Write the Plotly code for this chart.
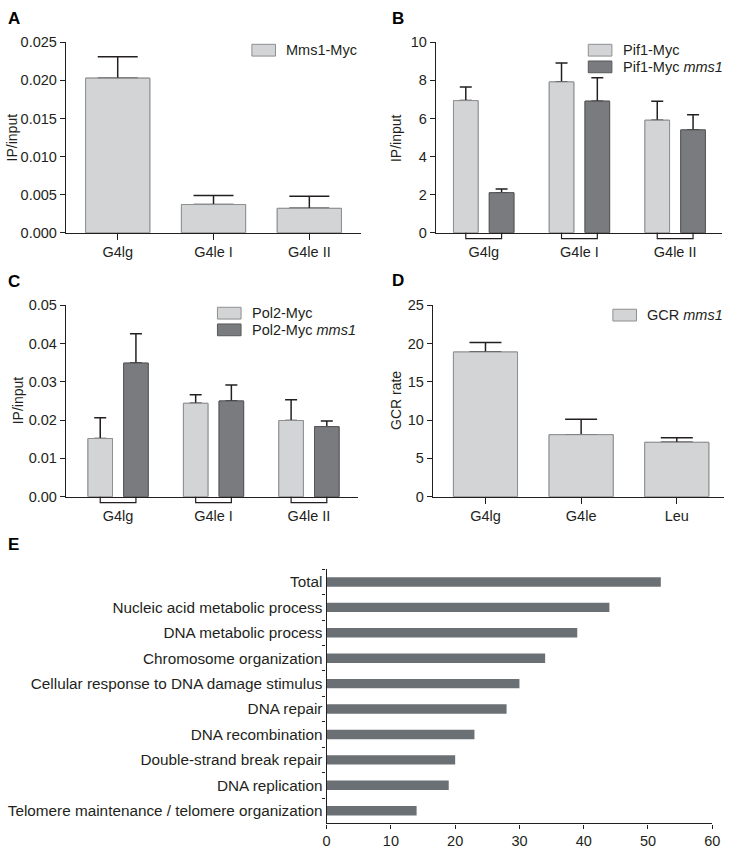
import plotly.graph_objects as go

W, H = 734, 854

# ---------------- data ----------------
a_cats = ["G4lg", "G4le I", "G4le II"]
a_vals = [0.0203, 0.0037, 0.0032]
a_err = [0.0028, 0.0012, 0.0016]

b_cats = ["G4lg", "G4le I", "G4le II"]
b_wt = [6.94, 7.92, 5.91]
b_wt_err = [0.71, 1.00, 1.00]
b_mms1 = [2.10, 6.91, 5.40]
b_mms1_err = [0.20, 1.23, 0.80]

c_cats = ["G4lg", "G4le I", "G4le II"]
c_wt = [0.0152, 0.0244, 0.0199]
c_wt_err = [0.0054, 0.0022, 0.0054]
c_mms1 = [0.0349, 0.0250, 0.0183]
c_mms1_err = [0.0077, 0.0042, 0.0015]

d_cats = ["G4lg", "G4le", "Leu"]
d_vals = [18.9, 8.1, 7.1]
d_err = [1.25, 2.0, 0.6]

e_cats = ["Total", "Nucleic acid metabolic process", "DNA metabolic process",
          "Chromosome organization", "Cellular response to DNA damage stimulus",
          "DNA repair", "DNA recombination", "Double-strand break repair",
          "DNA replication", "Telomere maintenance / telomere organization"]
e_vals = [52, 44, 39, 34, 30, 28, 23, 20, 19, 14]

# ---------------- style ----------------
INK = "#231f20"
LIGHT = "#d3d4d6"
LIGHT_EDGE = "#8e8f91"
DARK = "#7a7b7f"
DARK_EDGE = "#58595b"
EBAR = "#6b7074"
FONT = "Liberation Sans, Arial, sans-serif"
FS = 14.5


def PX(x):
    return x / W


def PY(y):
    return 1 - y / H


fig = go.Figure()

idx = [0, 1, 2]
wide = 0.67
narrow = 0.257
off = 0.187


def errbar(err, hw):
    return dict(type="data", symmetric=False, array=err, arrayminus=[0] * len(err),
                color=INK, thickness=1.5, width=hw)


def bars(x, y, width, fill, edge, err, hw, xa, ya):
    # bar carrying the (upper) error bar, then the same bar redrawn on top to hide the lower cap
    fig.add_trace(go.Bar(x=x, y=y, width=width, marker=dict(color=fill, line=dict(color=edge, width=1)),
                         error_y=errbar(err, hw), xaxis=xa, yaxis=ya, showlegend=False, hoverinfo="skip"))
    fig.add_trace(go.Bar(x=x, y=y, width=width, marker=dict(color=fill, line=dict(color=edge, width=1)),
                         xaxis=xa, yaxis=ya, showlegend=False))


bars(idx, a_vals, wide, LIGHT, LIGHT_EDGE, a_err, 20, "x", "y")
bars([i - off for i in idx], b_wt, narrow, LIGHT, LIGHT_EDGE, b_wt_err, 6, "x2", "y2")
bars([i + off for i in idx], b_mms1, narrow, DARK, DARK_EDGE, b_mms1_err, 6, "x2", "y2")
bars([i - off for i in idx], c_wt, narrow, LIGHT, LIGHT_EDGE, c_wt_err, 6, "x3", "y3")
bars([i + off for i in idx], c_mms1, narrow, DARK, DARK_EDGE, c_mms1_err, 6, "x3", "y3")
bars(idx, d_vals, wide, LIGHT, LIGHT_EDGE, d_err, 16, "x4", "y4")

fig.add_trace(go.Bar(y=e_cats, x=e_vals, orientation="h", width=0.37, marker=dict(color=EBAR, line=dict(width=0)),
                     xaxis="x5", yaxis="y5", showlegend=False))

tickfont = dict(family=FONT, size=FS, color=INK)
common_x = dict(showline=True, linecolor=INK, linewidth=1.3, ticks="outside", ticklen=6, tickwidth=1.3,
                tickcolor=INK, tickfont=tickfont, showgrid=False, zeroline=False, fixedrange=True)
common_y = dict(showline=True, linecolor=INK, linewidth=1.3, ticks="outside", ticklen=5, tickwidth=1.3,
                tickcolor=INK, tickfont=tickfont, showgrid=False, zeroline=False, fixedrange=True)

fig.update_layout(
    width=W, height=H, margin=dict(l=0, r=0, t=0, b=0),
    paper_bgcolor="white", plot_bgcolor="white",
    font=dict(family=FONT, color=INK, size=FS),
    barmode="overlay",
    xaxis=dict(common_x, domain=[PX(63), PX(363)], range=[-0.54, 2.54], tickvals=idx, ticktext=a_cats, anchor="y"),
    yaxis=dict(common_y, domain=[PY(229), PY(35)], range=[0, 0.025], dtick=0.005, tickformat=".3f", anchor="x"),
    xaxis2=dict(common_x, domain=[PX(439), PX(730)], range=[-0.5, 2.49], tickvals=idx, ticktext=b_cats,
                tickcolor="rgba(0,0,0,0)", anchor="y2"),
    yaxis2=dict(common_y, domain=[PY(229), PY(35)], range=[0, 10], dtick=2, anchor="x2"),
    xaxis3=dict(common_x, domain=[PX(63), PX(360)], range=[-0.546, 2.515], tickvals=idx, ticktext=c_cats,
                tickcolor="rgba(0,0,0,0)", anchor="y3"),
    yaxis3=dict(common_y, domain=[PY(498), PY(303)], range=[0, 0.05], dtick=0.01, tickformat=".2f", anchor="x3"),
    xaxis4=dict(common_x, domain=[PX(436), PX(732)], range=[-0.55, 2.494], tickvals=idx, ticktext=d_cats, anchor="y4"),
    yaxis4=dict(common_y, domain=[PY(498), PY(303)], range=[0, 25], dtick=5, anchor="x4"),
    xaxis5=dict(common_x, domain=[PX(328), PX(720)], range=[0, 60], dtick=10, ticklen=4, anchor="y5"),
    yaxis5=dict(common_y, domain=[PY(831), PY(572)], type="category", autorange="reversed",
                tickson="boundaries", ticklen=3, tickfont=dict(family=FONT, size=15.3, color=INK), anchor="x5"),
)

shapes = []
# brackets under grouped panels
for xr, dom_bottom in (("x2", 229), ("x3", 498)):
    for i in idx:
        shapes.append(dict(type="path", xref=xr, yref="paper",
                           path=f"M {i - off},{PY(dom_bottom)} L {i - off},{PY(dom_bottom + 6)} "
                                f"L {i + off},{PY(dom_bottom + 6)} L {i + off},{PY(dom_bottom)}",
                           line=dict(color=INK, width=1.2)))

annotations = []


def legend_item(x, y0, y1, fill, edge, text):
    shapes.append(dict(type="rect", xref="paper", yref="paper", x0=PX(x), x1=PX(x + 24),
                       y0=PY(y1), y1=PY(y0), fillcolor=fill, line=dict(color=edge, width=1)))
    annotations.append(dict(xref="paper", yref="paper", x=PX(x + 33), y=PY((y0 + y1) / 2), text=text,
                            showarrow=False, xanchor="left", yanchor="middle",
                            font=dict(family=FONT, size=FS, color=INK)))


legend_item(252, 37, 49, LIGHT, LIGHT_EDGE, "Mms1-Myc")
legend_item(594, 37, 49, LIGHT, LIGHT_EDGE, "Pif1-Myc")
legend_item(594, 54, 66, DARK, DARK_EDGE, "Pif1-Myc <i>mms1</i>")
legend_item(217, 305, 317, LIGHT, LIGHT_EDGE, "Pol2-Myc")
legend_item(217, 322, 334, DARK, DARK_EDGE, "Pol2-Myc <i>mms1</i>")
legend_item(619, 307, 319, LIGHT, LIGHT_EDGE, "GCR <i>mms1</i>")

# y-axis titles
for x, y, t in ((8, 132, "IP/input"), (398, 132, "IP/input"), (14, 400, "IP/input"), (398, 400, "GCR rate")):
    annotations.append(dict(xref="paper", yref="paper", x=PX(x), y=PY(y), text=t, textangle=-90,
                            showarrow=False, xanchor="center", yanchor="middle",
                            font=dict(family=FONT, size=14, color=INK)))

# panel letters
for x, y, t in ((2, 11, "A"), (392, 11, "B"), (2, 279, "C"), (392, 278, "D"), (2, 547, "E")):
    annotations.append(dict(xref="paper", yref="paper", x=PX(x), y=PY(y), text=f"<b>{t}</b>",
                            showarrow=False, xanchor="left", yanchor="middle",
                            font=dict(family=FONT, size=17, color="#000000")))

fig.update_layout(shapes=shapes, annotations=annotations)

fig.write_html("out.html", config={"displayModeBar": False},
               post_script="document.body.style.margin='0px';")
